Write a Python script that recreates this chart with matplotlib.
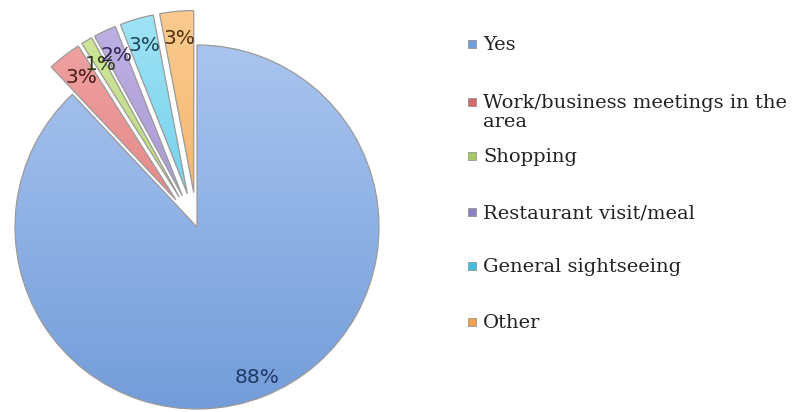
import matplotlib.pyplot as plt
import numpy as np
from matplotlib.colors import LinearSegmentedColormap

# data
labels = ["Yes", "Work/business meetings in the\narea", "Shopping",
          "Restaurant visit/meal", "General sightseeing", "Other"]
values = [88, 3, 1, 2, 3, 3]
pct_labels = ["88%", "3%", "1%", "2%", "3%", "3%"]
explode = [0, 0.19, 0.19, 0.19, 0.19, 0.19]   # fraction of radius

# light / dark tone for each slice (gradient top -> bottom)
light = ["#b2cbf2", "#f2a9a9", "#d3ea9f", "#c3b5e6", "#a6e6f7", "#fbcd93"]
dark = ["#739dda", "#d96a6a", "#a5c965", "#8f7fc4", "#44bcdf", "#f0a04f"]
txtcol = ["#1f3864", "#4a1a1a", "#2e3a14", "#2f2450", "#1b4553", "#4e300f"]

W, H = 799, 412
fig = plt.figure(figsize=(W / 100, H / 100), dpi=100)
ax = fig.add_axes([0, 0, 1, 1])

cx, cy, R = 197, H - 227, 182

wedges, _ = ax.pie(values, explode=[e * R for e in explode], startangle=90,
                   counterclock=False, center=(cx, cy), radius=R,
                   wedgeprops=dict(linewidth=0.9, edgecolor="#9a9a9a"))

for i, w in enumerate(wedges):
    cmap = LinearSegmentedColormap.from_list("g%d" % i, [light[i], dark[i]])
    grad = np.linspace(0, 1, 256).reshape(-1, 1)
    im = ax.imshow(grad, cmap=cmap, extent=(cx - R - 60, cx + R + 60, cy - R, cy + R + 60),
                   origin="upper", aspect="auto", zorder=w.get_zorder() + 0.1)
    im.set_clip_path(w)
    # outline above the gradient
    w.set_zorder(w.get_zorder() + 0.2)
    w.set_facecolor("none")

# percentage labels
cum = 0
for i, v in enumerate(values):
    mid = np.deg2rad(90 - (cum + v / 2) / sum(values) * 360)
    cum += v
    d = 0.89 if i == 0 else 0.85 + explode[i]
    ax.text(cx + d * R * np.cos(mid), cy + d * R * np.sin(mid), pct_labels[i],
            ha="center", va="center", fontsize=14.5, color=txtcol[i],
            family="DejaVu Sans", zorder=10)

# legend
ys = [45, 103, 157, 213, 267, 323]
for i, lab in enumerate(labels):
    y = H - ys[i]
    ax.add_patch(plt.Rectangle((468, y - 3), 8, 8, facecolor=dark[i],
                               edgecolor="#888888", linewidth=0.5))
    ax.text(483, y + 9, lab, ha="left", va="top", fontsize=14,
            family="DejaVu Serif", color="#222222", linespacing=1.1)

ax.set_xlim(0, W)
ax.set_ylim(0, H)
ax.set_aspect("auto")
ax.axis("off")

fig.savefig("out.png", dpi=100)
